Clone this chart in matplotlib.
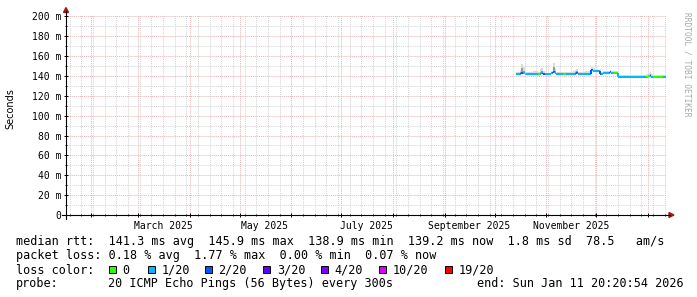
import pandas as pd
import matplotlib
matplotlib.use("Agg")
import matplotlib.pyplot as plt
import matplotlib.dates as mdates
from matplotlib.lines import Line2D
from matplotlib.patches import Rectangle, Polygon
from matplotlib.ticker import MultipleLocator, NullFormatter, FuncFormatter

W, H = 697, 297
MONO = "DejaVu Sans Mono"
plt.rcParams["font.family"] = [MONO]

# graph window (last 360 days) and where the measurements begin
graph_start = pd.Timestamp("2025-01-16 20:20:54")
graph_end = pd.Timestamp("2026-01-11 20:20:54")
data_start = pd.Timestamp("2025-10-14")

# daily median rtt in ms
median_ms = [
    142.4, 142.4, 142.4, 143.3, 142.6, 142.4, 142.4, 142.4, 142.4, 142.4,
    142.4, 142.4, 142.4, 142.4, 142.4, 142.8, 142.4, 141.9, 141.9, 141.6,
    141.6, 142.6, 143.5, 142.6, 141.9, 141.9, 141.9, 141.9, 141.9, 141.9,
    141.9, 141.9, 141.9, 141.9, 142.4, 142.4, 143.0, 142.4, 142.4, 142.4,
    142.4, 142.4, 142.4, 142.4, 142.4, 145.6, 145.0, 144.9, 145.0, 144.8,
    142.4, 142.3, 143.2, 143.2, 143.2, 143.2, 143.5, 143.2, 143.2, 143.2,
    143.2, 139.3, 139.3, 139.3, 139.3, 139.3, 139.3, 139.3, 139.3, 139.3,
    139.3, 139.3, 139.3, 139.3, 139.3, 139.3, 139.3, 139.3, 139.4, 139.5,
    139.7, 139.4, 139.3, 139.3, 139.3, 139.3, 139.3, 139.3, 139.3, 139.2,
]

# dense part of the smoke (dark grey) top, ms
smoke_core_ms = [
    142.4, 142.4, 143.5, 147.5, 145.0, 142.4, 142.4, 142.4, 142.4, 142.4,
    142.4, 142.4, 142.4, 142.4, 144.0, 144.5, 142.4, 141.9, 141.9, 141.6,
    141.6, 143.5, 148.5, 144.5, 141.9, 141.9, 141.9, 141.9, 141.9, 141.9,
    141.9, 141.9, 141.9, 141.9, 142.4, 144.0, 144.5, 142.4, 142.4, 142.4,
    142.4, 142.4, 142.4, 142.4, 142.4, 146.5, 145.0, 144.9, 145.0, 144.8,
    144.0, 142.3, 143.2, 143.2, 143.2, 143.2, 144.2, 143.2, 143.2, 143.2,
    143.2, 139.3, 139.3, 139.3, 139.3, 139.3, 139.3, 139.3, 139.3, 139.3,
    139.3, 139.3, 139.3, 139.3, 139.3, 139.3, 139.3, 139.3, 139.4, 141.0,
    141.5, 139.4, 139.3, 139.3, 139.3, 139.3, 139.3, 139.3, 139.3, 139.2,
]

# highest ping of the smoke (light grey) top, ms
smoke_top_ms = [
    143.8, 144.0, 146.0, 152.0, 149.0, 144.0, 143.6, 143.6, 143.6, 143.6,
    145.0, 145.0, 144.5, 143.8, 146.5, 147.5, 144.5, 143.4, 143.4, 143.2,
    143.4, 145.0, 153.0, 148.0, 143.6, 143.6, 143.6, 144.0, 144.0, 144.0,
    144.0, 143.6, 143.6, 143.6, 145.0, 146.0, 147.0, 144.0, 144.0, 144.0,
    144.0, 144.5, 144.5, 144.5, 145.0, 148.5, 147.5, 146.5, 146.5, 146.0,
    146.5, 144.0, 144.5, 144.5, 144.5, 144.5, 145.5, 144.5, 144.5, 144.5,
    144.5, 140.6, 140.6, 140.6, 140.6, 141.0, 141.2, 141.2, 141.2, 141.2,
    141.2, 141.2, 140.8, 140.8, 140.8, 140.8, 140.8, 141.2, 142.0, 143.0,
    143.5, 141.5, 141.2, 141.2, 141.2, 140.8, 140.8, 140.8, 140.8, 140.6,
]

# loss level per day: index into loss_colors
loss_level = [
    1, 1, 1, 2, 1, 0, 1, 1, 1, 1,
    1, 1, 1, 0, 1, 1, 2, 1, 1, 1,
    1, 1, 2, 1, 1, 1, 1, 1, 0, 0,
    1, 1, 1, 1, 1, 1, 2, 1, 1, 1,
    1, 1, 1, 1, 1, 2, 1, 1, 1, 1,
    2, 1, 1, 1, 1, 1, 2, 1, 0, 0,
    0, 1, 1, 1, 1, 1, 1, 1, 1, 1,
    1, 1, 1, 1, 1, 1, 1, 1, 0, 0,
    2, 1, 0, 0, 0, 0, 0, 0, 1, 1,
]

loss_colors = ["#26ff00", "#00b8ff", "#0059ff", "#5e00ff", "#7e00ff", "#dd00ff", "#ff0000"]
loss_labels = ["0", "1/20", "2/20", "3/20", "4/20", "10/20", "19/20"]

month_labels = ["March 2025", "May 2025", "July 2025", "September 2025", "November 2025"]
month_label_dates = ["2025-03-16", "2025-05-16", "2025-07-16", "2025-09-16", "2025-11-16"]

rtt_avg, rtt_max, rtt_min, rtt_now, rtt_sd, rtt_am_s = 141.3, 145.9, 138.9, 139.2, 1.8, 78.5
loss_avg, loss_max, loss_min, loss_now = 0.18, 1.77, 0.00, 0.07
probe_text = "20 ICMP Echo Pings (56 Bytes) every 300s"
end_text = "end: Sun Jan 11 20:20:54 2026"


def fx(x):
    return x / W


def fy(y):
    return 1 - y / H


fig = plt.figure(figsize=(W / 100, H / 100), dpi=100, facecolor="white")
ax = fig.add_axes([fx(66), fy(215), 600 / W, 200 / H])
ax.set_facecolor("white")
ax.set_xlim(mdates.date2num(graph_start), mdates.date2num(graph_end))
ax.set_ylim(0, 201.3)

# grid: weeks / tens minor, months / twenties major
ax.xaxis.set_major_locator(mdates.MonthLocator())
ax.xaxis.set_minor_locator(mdates.WeekdayLocator(byweekday=mdates.SU))
ax.xaxis.set_major_formatter(NullFormatter())
ax.yaxis.set_major_locator(MultipleLocator(20))
ax.yaxis.set_minor_locator(MultipleLocator(10))
ax.yaxis.set_major_formatter(FuncFormatter(lambda v, p: "0" if v == 0 else "%d m" % v))
ax.set_axisbelow(True)
ax.grid(which="minor", color="#d3d3d3", lw=0.7, linestyle=(0, (1, 1)))
ax.grid(which="major", color="#ecb2b2", lw=0.7, linestyle=(0, (1, 1)))
ax.tick_params(which="major", direction="inout", length=3, width=0.7, color="black",
               pad=2, labelsize=7, labelcolor="black")
ax.tick_params(which="minor", direction="inout", length=1.5, width=0.6, color="black")
for s in ax.spines.values():
    s.set_visible(False)

# smoke and coloured median line
edges = pd.date_range(data_start, periods=len(median_ms) + 1, freq="D")
xe = mdates.date2num(edges)
med_ext = median_ms + [median_ms[-1]]
ax.fill_between(xe, med_ext, smoke_top_ms + [smoke_top_ms[-1]], step="post",
                color="#dadada", lw=0, zorder=2)
ax.fill_between(xe, med_ext, smoke_core_ms + [smoke_core_ms[-1]], step="post",
                color="#9c9c9c", lw=0, zorder=2)
for i, m in enumerate(median_ms):
    c = loss_colors[loss_level[i]]
    ax.plot([xe[i], xe[i + 1]], [m, m], color=c, lw=1.45, solid_capstyle="butt", zorder=3)
    if i > 0 and median_ms[i - 1] != m:
        ax.plot([xe[i], xe[i]], [median_ms[i - 1], m], color=c, lw=1.45,
                solid_capstyle="butt", zorder=3)

# month labels sit in the middle of the month
for lab, d in zip(month_labels, month_label_dates):
    ax.text(mdates.date2num(pd.Timestamp(d)), -13.6 / 200, lab,
            transform=ax.get_xaxis_transform(), ha="center", va="baseline",
            fontsize=7, family=MONO, color="black")

# axes with arrows
arrow_c = "#9b1c1c"
fig.add_artist(Line2D([fx(62), fx(670)], [fy(215), fy(215)], color="black", lw=0.8))
fig.add_artist(Line2D([fx(66), fx(66)], [fy(219), fy(11)], color="black", lw=0.8))
fig.add_artist(Polygon([[fx(63.5), fy(12.5)], [fx(68.5), fy(12.5)], [fx(66), fy(7.5)]],
                       closed=True, color=arrow_c, transform=fig.transFigure))
fig.add_artist(Polygon([[fx(669), fy(212.5)], [fx(669), fy(217.5)], [fx(674), fy(215)]],
                       closed=True, color=arrow_c, transform=fig.transFigure))

fig.text(fx(10.5), fy(109), "Seconds", rotation=90, ha="center", va="center",
         fontsize=7, family="DejaVu Sans", color="black")
fig.text(fx(687.5), fy(12), "RRDTOOL / TOBI OETIKER", rotation=270, ha="center", va="top",
         fontsize=5.7, family=MONO, color="#a8a8a8")

# legend block
LF = 8.5
row1 = ("median rtt:  %.1f ms avg  %.1f ms max  %.1f ms min  %.1f ms now  %.1f ms sd  %.1f   am/s"
        % (rtt_avg, rtt_max, rtt_min, rtt_now, rtt_sd, rtt_am_s))
row2 = ("packet loss: %.2f %% avg  %.2f %% max  %.2f %% min  %.2f %% now"
        % (loss_avg, loss_max, loss_min, loss_now))
fig.text(fx(16), fy(245.5), row1, fontsize=LF, family=MONO, va="baseline")
fig.text(fx(16), fy(259.5), row2, fontsize=LF, family=MONO, va="baseline")
fig.text(fx(16), fy(273.5), "loss color:", fontsize=LF, family=MONO, va="baseline")
box_x = [108.5, 147.5, 204.6, 262.7, 320.8, 378.9, 444.6]
for bx, col, lab in zip(box_x, loss_colors, loss_labels):
    fig.add_artist(Rectangle((fx(bx), fy(273)), 7 / W, 7 / H, facecolor=col,
                             edgecolor="black", lw=0.7, transform=fig.transFigure))
    fig.text(fx(bx + 14), fy(273.5), lab, fontsize=LF, family=MONO, va="baseline")
fig.text(fx(16), fy(287), "probe:", fontsize=LF, family=MONO, va="baseline")
fig.text(fx(108), fy(287), probe_text, fontsize=LF, family=MONO, va="baseline")
fig.text(fx(477), fy(287), end_text, fontsize=LF, family=MONO, va="baseline")

fig.savefig("out.png", dpi=100, facecolor="white")
